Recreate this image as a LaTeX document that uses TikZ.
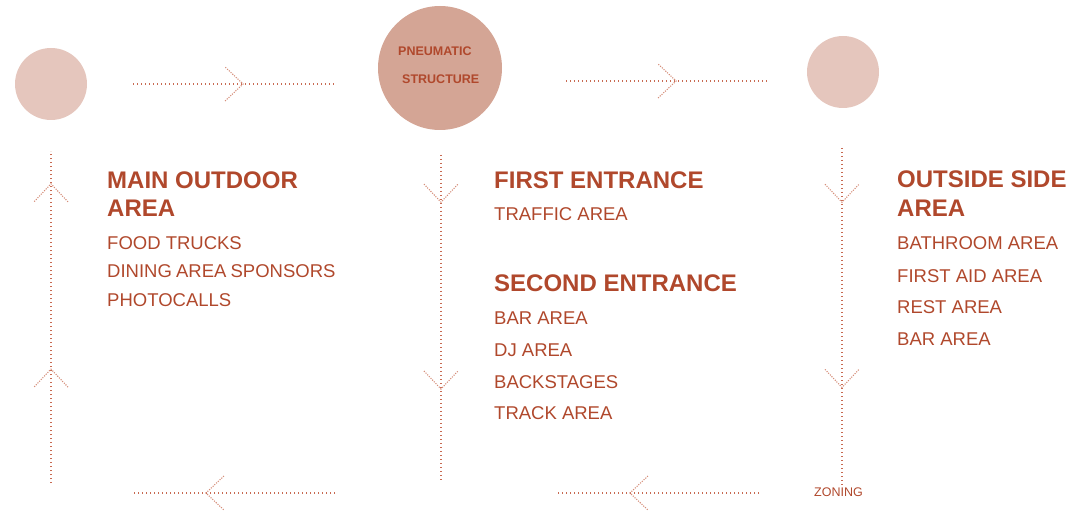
\documentclass[tikz,border=0pt]{standalone}
\usepackage{fontspec}
\setmainfont{Liberation Sans}
\usetikzlibrary{decorations.markings}

\definecolor{accent}{HTML}{B0482C}
\definecolor{flowline}{HTML}{C86A52}
\definecolor{armline}{HTML}{D58E7A}
\definecolor{softdisc}{HTML}{E5C6BD}
\definecolor{maindisc}{HTML}{D4A595}

\begin{document}
\begin{tikzpicture}[
    x=1pt, y=-1pt,
    disc/.style={circle, fill=softdisc, draw=none, minimum size=72, inner sep=0},
    bigdisc/.style={circle, fill=maindisc, draw=none, minimum size=124, inner sep=0},
    head/.style={anchor=base west, inner sep=0, text=accent, font=\bfseries\fontsize{24}{28}\selectfont},
    item/.style={anchor=base west, inner sep=0, text=accent, font=\fontsize{18.5}{22}\selectfont},
    tag/.style={anchor=base west, inner sep=0, text=accent, font=\bfseries\fontsize{12.5}{15}\selectfont},
    flow/.style={flowline, line width=1.1pt, dash pattern=on 1.1pt off 2.9pt},
    chevron at/.style={postaction={decorate, decoration={markings,
        mark=at position #1 with {\draw[armline, line width=1.1pt, dash pattern=on 1.1pt off 1.3pt] (-18,17) -- (0,0) -- (-18,-17);}}}}
]
\useasboundingbox (0,0) rectangle (1071,513);

% Discs
\node[disc] (outdoor) at (51,84) {};
\node[bigdisc] (pneumatic) at (440,68) {};
\node[disc] (outside) at (843,72) {};

% Disc label
\node[tag] (pneu1) at (398,56) {PNEUMATIC};
\node[tag] (pneu2) at (402,84) {STRUCTURE};

% Main outdoor area
\node[head] (mainhead) at (107,189) {MAIN OUTDOOR};
\node[head] (mainhead2) at (107,217) {AREA};
\node[item] (food) at (107,250) {FOOD TRUCKS};
\node[item] (dining) at (107,277) {DINING\kern-1pt\ AREA\kern-1pt\ SPONSORS};
\node[item] (photo) at (107,306) {PHOTOCALLS};

% First entrance
\node[head] (firsthead) at (494,189) {FIRST ENTRANCE};
\node[item] (traffic) at (494,221) {TRAFFIC AREA};

% Second entrance
\node[head] (secondhead) at (494,291) {SECOND ENTRANCE};
\node[item] (bar) at (494,324) {BAR AREA};
\node[item] (dj) at (494,356) {DJ AREA};
\node[item] (backstage) at (494,388) {BACKSTAGES};
\node[item] (track) at (494,419) {TRACK AREA};

% Outside side area
\node[head] (outhead) at (897,188) {OUTSIDE SIDE};
\node[head] (outhead2) at (897,217) {AREA};
\node[item] (bath) at (897,250) {BATHROOM AREA};
\node[item] (aid) at (897,282) {FIRST AID AREA};
\node[item] (rest) at (897,313) {REST AREA};
\node[item] (bar2) at (897,345) {BAR AREA};

% Zoning label
\node[anchor=base west, inner sep=0, text=accent, font=\fontsize{12.5}{15}\selectfont] (zoning) at (814,496) {ZONING};

% Line ends
\coordinate (topA) at (133,84);
\coordinate (topB) at (335,84);
\coordinate (topC) at (566,81);
\coordinate (topD) at (768,81);
\coordinate (leftA) at (51,483);
\coordinate (leftB) at (51,151);
\coordinate (midA) at (441,155);
\coordinate (midB) at (441,480);
\coordinate (rightA) at (842,148);
\coordinate (botA) at (759,493);
\coordinate (botB) at (557,493);
\coordinate (botC) at (335,493);
\coordinate (botD) at (133,493);

% Flow
\draw[flow, chevron at=.545] (topA) -- (topB);
\draw[flow, chevron at=.545] (topC) -- (topD);
\draw[flow, chevron at=.145, chevron at=.72] (midA) -- (midB);
\draw[flow, chevron at=.16, chevron at=.706] (rightA) -- (zoning.north -| rightA);
\draw[flow, chevron at=.639] (botA) -- (botB);
\draw[flow, chevron at=.639] (botC) -- (botD);
\draw[flow, chevron at=.343, chevron at=.901] (leftA) -- (leftB);

\end{tikzpicture}
\end{document}
